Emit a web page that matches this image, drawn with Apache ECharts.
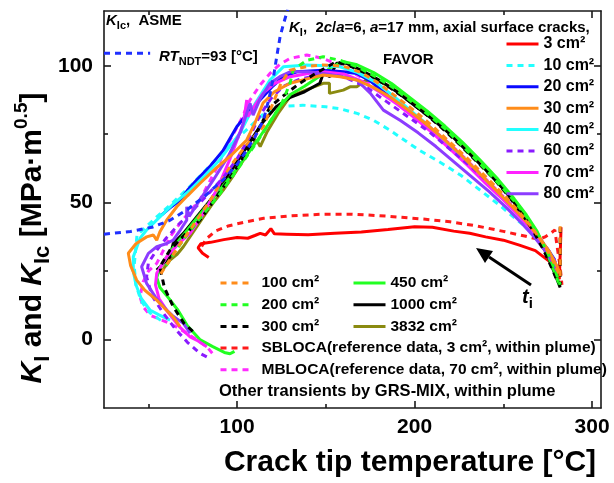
<!DOCTYPE html>
<html>
<head>
<meta charset="utf-8">
<script src="https://cdn.jsdelivr.net/npm/echarts@6/dist/echarts.min.js"></script>
<style>
  html, body { margin: 0; padding: 0; background: #fff; }
  #chart { width: 614px; height: 483px; }
</style>
</head>
<body>
<div id="chart"></div>
<script>
// Axis ticks
const xMajorTicks = [100, 200, 300];
const xMinorTicks = [50, 150, 250];
const yMajorTicks = [0, 50, 100];
const yMinorTicks = [25, 75];

// ASME K_Ic reference curve (RT_NDT = 93 °C) and its key sample
const asmeKIc = [[25,38.5],[40,39.5],[52,41],[62,43.5],[72,47.5],[82,52.5],[92,58.3],[100,64],[105.4,69.2],[110,74],[114.7,80],[118,88],[120.5,96],[122.3,103.3],[124.2,110.6],[126,115],[128.5,120.5]];
const asmeKey = [[25,104.6],[51,104.6]];

// K_I paths versus crack tip temperature for each break size (FAVOR)
const kI3 = [[84,30],[80.5,31.5],[78,33.5],[79.5,35],[85,35.5],[92.5,36.5],[100,37.3],[106,37],[110,38],[113,38.8],[116,38.2],[119,40.5],[121,38.6],[128,38.5],[140,38.3],[155,38.8],[170,39.3],[185,40.2],[200,41.2],[210,41],[222,39.6],[231,38.8],[240,37.5],[250,36.3],[259,34.5],[268,32.5],[275,29],[279,27],[281.5,22],[282,31],[282.5,41]];
const kI10 = [[57,7],[51,9.7],[46,14],[43,20],[42,27],[43,34],[43.6,38.2],[48,40.7],[55,45],[62,49],[72,55],[84,63],[95,70.5],[107,77.6],[115,82.5],[122.5,85],[137,85.6],[150,85],[158,84.3],[168,82.5],[176.5,80.2],[186,76.5],[195,72.5],[203,69],[215,64.5],[226,60],[238,54],[248,49],[258,43.5],[265,40],[271,35],[276,30],[280,25.4]];
const kI20 = [[57.5,45.5],[62,48],[67.8,50.9],[72,54.5],[77.2,58.3],[85,63.5],[92,69],[99.8,77.7],[107,83.5],[114.6,88.7],[120,92.5],[126,96],[133.6,97.8],[148.4,98.4],[160,97.8],[167.4,97.2],[175,94.5],[185,89],[195,84],[205,79],[215,73.5],[225,67.5],[235,61],[245,54.5],[255,48],[263,42.5],[270,37],[275,33],[279,29]];
const kI30 = [[67.8,4.7],[64,8.3],[59,11.5],[54.7,14.4],[48,18],[43.4,21.7],[40,27],[38.7,31.5],[43,35],[49,37.5],[52.8,38.2],[54.7,36.3],[56.5,39.4],[60.3,43.6],[66,48.5],[72,52.5],[79,57],[88,62.5],[97,67.5],[105.4,72.9],[110,79],[114.6,86.4],[121,90.5],[129.8,93.6],[140,95.3],[148.4,96.6],[158,96],[167.4,94.8],[177,92],[186,88.7],[196,84],[206,79],[216,73.5],[226,67.5],[236,61],[246,54.5],[255,48.5],[263,43],[270,37.5],[276,32],[280,27],[282,24]];
const kI40 = [[62.2,7.1],[56,9],[50.9,10.8],[46,15],[43,20],[41.5,25],[41.5,30.2],[45.3,37],[49,40],[56.5,44.8],[64,49.5],[73.5,54.6],[82,60],[90,65.5],[101.6,75.4],[110,86],[118.5,94.8],[126,99.6],[139.2,100.3],[150,100],[158,99.6],[168,97.5],[178,94],[188,89],[198,83.5],[208,78],[218,72],[228,66],[238,59.5],[248,53],[257,47],[265,41.5],[271,36.5],[276,31.5],[280,27]];
const kI60 = [[82.9,-6.3],[79,-5],[72,-1],[65,4],[58,10],[52,16],[49,22.9],[50,28],[54,32],[60,37],[67,42],[73.5,46.2],[82,52],[92,59],[100,66],[107,74],[113,82],[119,88],[126,92.5],[135,95],[148,97],[160,96],[172,92.5],[184,87],[196,81.5],[208,76],[220,69.5],[232,63],[244,56],[254,49.5],[263,43],[270,37.5],[276,32],[280,27.5]];
const kI70 = [[82.9,-2.6],[78,-0.5],[73.5,1],[67,5],[61,10],[56,15],[54,20],[54.7,24.2],[60.3,30.2],[67,35],[73.5,38.8],[80,45],[88.5,54.6],[96,66],[103.5,79],[105.4,87.5],[106,81.4],[110,85.5],[114.7,90],[121,93.5],[129.8,96],[140,97.2],[148.4,97.8],[160,97],[170,94.5],[180,90.5],[190,86],[200,81],[210,75.5],[220,69.5],[230,63.5],[240,57],[250,51],[259,45],[266,40],[272,35],[277,30.5],[280,27]];
const kI80 = [[73.5,2.3],[69.7,5.9],[64,8.5],[60.3,10.8],[54,15.5],[49,20.5],[46.2,26.6],[50,31.5],[54.7,33.9],[60,35],[64,36.3],[68,40],[71.6,43.6],[71.6,48.5],[73,45],[78,50],[86.6,58.3],[95,67],[102,76],[107.3,86.3],[109,82],[113,88],[118.5,93.6],[124,96],[129.8,97.8],[140,97.8],[148.5,97.2],[158,96.2],[167.4,94.8],[175,90],[182.4,83.8],[192,80],[202,75.5],[212,70.5],[222,65],[232,59.5],[242,54],[252,48],[261,42],[268,37],[274,32],[279,27],[281,24]];
const kI100 = [[57,24],[62,29],[68,35],[75,41.5],[85,51],[96,63.1],[105,71],[114.7,77.7],[120,86],[125,94],[129.8,98.4],[140,99.8],[148.5,100.3],[160,99.8],[170,97.5],[180,93.5],[190,88.5],[200,83.5],[210,78],[220,72],[230,66],[240,59.5],[250,53],[259,46.5],[266,41],[272,35.5],[277,30],[281,24.5],[282,22.8],[282,41.8]];
const kI200 = [[60,27],[66,33],[72,38.5],[80,45],[90,53],[100,62],[110,71],[118,79],[125,86],[129.8,93.6],[131.6,98.4],[139.2,102],[148.5,103.3],[158,102],[168,99.5],[178,96],[188,92],[198,87],[208,82],[218,76.5],[228,70],[238,63.5],[248,56.5],[257,50],[264,44],[270,38],[275,31.5],[279,25.5],[282,20]];
const kI300 = [[75,3],[70,6],[64,12],[59,19],[56.5,26.6],[62.2,32.7],[70,38],[79,43.6],[88.5,52.2],[98,61],[108,71.5],[118.5,85],[126,89],[135,93.5],[145,97.5],[156,101.5],[165,99.5],[175,96.5],[185,92.5],[195,88],[205,83],[215,77.5],[225,71.5],[235,65],[245,58.5],[254,51.5],[261,45.5],[267,39.5],[272,33.5],[276,28],[280,22],[282,20],[282,41]];
const kI450 = [[98.5,-4.3],[96,-5.2],[92.8,-4.7],[86,-2.5],[79,0],[72,5],[66.6,10.8],[61,15.5],[56.5,19],[54.7,22.7],[57,27],[64,33.6],[72,40],[80,46.5],[90,54.5],[100,62.5],[110,71.5],[118,79],[124,85],[130,89.5],[138,92.5],[146,96],[153,99.5],[160,101.5],[167,100.5],[177,97.5],[187,93.5],[197,88.5],[207,83.5],[217,78],[227,72],[237,65.5],[247,58.5],[256,51.5],[263,45.5],[269,39.5],[274,32.5],[278,26],[281.5,20]];
const kI1000 = [[54.7,25.4],[58,27.5],[62.2,30.2],[64,35.1],[69.7,38.8],[77.2,44.8],[85,51],[95,60],[105,70],[114,79],[122,85],[130,88.5],[138,90.5],[146.6,93.6],[148.5,97.2],[152.3,96],[156,100.9],[161.7,100.9],[170,98.3],[180,94.8],[190,90.5],[200,85.5],[210,80.5],[220,75],[230,68.5],[240,62],[250,55],[258,48.5],[265,42.5],[270,37],[275,30.5],[279,24],[282,19]];
const kI3832 = [[56.5,24.2],[62.2,29],[66,31],[69.7,33.9],[75,39],[81,44.8],[86,49.5],[92.2,54.6],[98,60],[104,66],[108,70],[111,72.9],[113,70.5],[117,76],[123,82.5],[129.8,88.7],[140,91.5],[148.5,93.6],[152,93.6],[152,89.9],[159.8,91.1],[163.6,92.3],[167.4,92.3],[172,94.5],[178,95],[186,92.5],[196,88],[206,83],[216,77.5],[226,71.5],[236,65],[246,58],[255,51.5],[262,45.8],[268,40],[273,33.5],[277,28],[280,23],[282,19.5]];

// Reference transients (within plume)
const sbloca = [[80,34],[83,37],[88,39.7],[95,41.5],[105,43],[115,44.3],[130,45.2],[148.4,45.8],[165,45.8],[186,45],[205,44],[220,43],[235,41.5],[250,39.5],[262,37.8],[270,36.6],[273.5,37.5],[277,39],[279,40],[280.5,33],[282,26.5],[283,20]];
const mbloca = [[86,-5],[82.9,-2.6],[76,0.5],[71.6,2.3],[66,4.5],[62.2,5.9],[56,7.5],[50.9,8.9],[47,12],[45.3,15.6],[47,21],[50,25],[54.7,27.8],[58,32],[62.2,37.5],[67.8,42.4],[73,46.5],[79,51],[88,62],[96,72.9],[102,80],[107.3,87.5],[113,93],[118.5,97.2],[124,100.5],[129.8,102.7],[139.2,103.9],[148.5,102.7],[158,100],[168,96.5],[178,92.5],[188,88],[198,83],[208,78],[218,72.5],[228,66.5],[238,60],[248,53.5],[257,47.5],[264,42],[270,37],[275,32],[279,27.5],[282,24]];

const FONT = '"Liberation Sans", Arial, Helvetica, sans-serif';
const DASH = [6, 5];
const AXIS_COLOR = '#1a1a1a';

function curve(name, data, color, dashed, z) {
  return {
    type: 'line', name: name, data: data, symbol: 'none', showSymbol: false, smooth: false,
    xAxisIndex: 0, yAxisIndex: 0, z: z || 2,
    lineStyle: { color: color, width: 3, type: dashed ? DASH : 'solid' },
    itemStyle: { color: color },
    emphasis: { disabled: true }, silent: true, animation: false
  };
}

const seriesList = [
  curve('SBLOCA(reference data, 3 cm², within plume)', sbloca, '#ff1a1a', true),
  curve('MBLOCA(reference data, 70 cm², within plume)', mbloca, '#ff2bff', true),
  curve('3 cm²', kI3, '#ff0000', false),
  curve('10 cm²', kI10, '#22ffff', true),
  curve('3832 cm²', kI3832, '#8a8a10', false),
  curve('1000 cm²', kI1000, '#000000', false),
  curve('450 cm²', kI450, '#22ff22', false),
  curve('300 cm²', kI300, '#000000', true, 3),
  curve('200 cm²', kI200, '#22ff22', true, 3),
  curve('100 cm²', kI100, '#ff8c1a', true, 3),
  curve('20 cm²', kI20, '#0a0aff', false),
  curve('40 cm²', kI40, '#22ffff', false),
  curve('70 cm²', kI70, '#ff22ff', false),
  curve('60 cm²', kI60, '#8a1aff', true),
  curve('80 cm²', kI80, '#8c3cff', false),
  curve('30 cm²', kI30, '#ff8c1a', false),
  curve('ASME', asmeKIc, '#1f2fff', true, 4),
  curve('ASME key', asmeKey, '#1f2fff', true, 4)
];

const dashOf = {};
const colorOf = {};
seriesList.forEach(s => { dashOf[s.name] = s.lineStyle.type; colorOf[s.name] = s.lineStyle.color; });

// Legend keys show only the line (no marker)
function legendItems(names) {
  return names.map(n => ({
    name: n,
    lineStyle: { width: 3, type: dashOf[n], color: colorOf[n] },
    itemStyle: { opacity: 0, borderWidth: 0 }
  }));
}

function legendBlock(names, left, top, gap, size, textPad) {
  return {
    data: legendItems(names), orient: 'vertical', left: left, top: top,
    padding: 0, itemGap: gap, itemWidth: 32, itemHeight: 14,
    selectedMode: false,
    textStyle: { fontFamily: FONT, fontSize: size, fontWeight: 'bold', color: '#000', lineHeight: 16, padding: [0, 0, 0, textPad] }
  };
}

function xAxisCfg(position, ticks, len, withLine, withLabels) {
  return {
    type: 'value', position: position, min: 25, max: 305,
    axisLine: { show: withLine, onZero: false, lineStyle: { color: AXIS_COLOR, width: 1.6 } },
    axisTick: { show: true, inside: true, length: len, customValues: ticks, lineStyle: { color: AXIS_COLOR, width: 1.6 } },
    axisLabel: withLabels ? { show: true, customValues: ticks, margin: 9, fontFamily: FONT, fontSize: 21, fontWeight: 'bold', color: '#000' } : { show: false },
    splitLine: { show: false }
  };
}
function yAxisCfg(position, ticks, len, withLine, withLabels) {
  return {
    type: 'value', position: position, min: -25, max: 120,
    axisLine: { show: withLine, onZero: false, lineStyle: { color: AXIS_COLOR, width: 1.6 } },
    axisTick: { show: true, inside: true, length: len, customValues: ticks, lineStyle: { color: AXIS_COLOR, width: 1.6 } },
    axisLabel: withLabels ? { show: true, customValues: ticks, margin: 11, fontFamily: FONT, fontSize: 21, fontWeight: 'bold', color: '#000' } : { show: false },
    splitLine: { show: false }
  };
}

function rich(size) {
  return {
    n: { fontFamily: FONT, fontSize: size, fontWeight: 'bold', lineHeight: size * 1.4, verticalAlign: 'middle', fill: '#000', color: '#000' },
    i: { fontFamily: FONT, fontSize: size, fontWeight: 'bold', fontStyle: 'italic', lineHeight: size * 1.4, verticalAlign: 'middle', fill: '#000', color: '#000' },
    sb: { fontFamily: FONT, fontSize: Math.round(size * 0.74), fontWeight: 'bold', lineHeight: size * 1.4, verticalAlign: 'bottom', fill: '#000', color: '#000' },
    sp: { fontFamily: FONT, fontSize: Math.round(size * 0.64), fontWeight: 'bold', lineHeight: size * 1.4, verticalAlign: 'top', fill: '#000', color: '#000' }
  };
}

function label(x, y, text, size, align, rotation) {
  return {
    type: 'text', x: x, y: y, rotation: rotation || 0, silent: true, z: 20,
    style: {
      text: text, rich: rich(size), fill: '#000',
      font: 'bold ' + size + 'px ' + FONT,
      textAlign: align || 'left', textVerticalAlign: 'middle'
    }
  };
}

const chart = echarts.init(document.getElementById('chart'), null, { renderer: 'canvas' });
chart.setOption({
  animation: false,
  backgroundColor: '#ffffff',
  grid: { left: 104, right: 13, top: 11, bottom: 75, containLabel: false, outerBoundsMode: 'none' },
  xAxis: [
    xAxisCfg('bottom', xMajorTicks, 7, true, true),
    xAxisCfg('bottom', xMinorTicks, 4, false, false),
    xAxisCfg('top', xMajorTicks, 7, true, false),
    xAxisCfg('top', xMinorTicks, 4, false, false)
  ],
  yAxis: [
    yAxisCfg('left', yMajorTicks, 7, true, true),
    yAxisCfg('left', yMinorTicks, 4, false, false),
    yAxisCfg('right', yMajorTicks, 7, true, false),
    yAxisCfg('right', yMinorTicks, 4, false, false)
  ],
  legend: [
    legendBlock(['3 cm²', '10 cm²', '20 cm²', '30 cm²', '40 cm²', '60 cm²', '70 cm²', '80 cm²'], 505, 36, 5.4, 16, 0),
    legendBlock(['100 cm²', '200 cm²', '300 cm²', 'SBLOCA(reference data, 3 cm², within plume)', 'MBLOCA(reference data, 70 cm², within plume)'], 219, 275, 5.7, 15.5, 4),
    legendBlock(['450 cm²', '1000 cm²', '3832 cm²'], 352, 275, 5.7, 15.5, 0)
  ],
  series: seriesList,
  graphic: [
    label(106, 21, '{i|K}{sb|Ic}{n|,  ASME}', 15),
    label(159, 57, '{i|RT}{sb|NDT}{n|=93 [°C]}', 15),
    label(289, 28, '{i|K}{sb|I}{n|,  2}{i|c}{n|/}{i|a}{n|=6, }{i|a}{n|=17 mm, axial surface cracks,}', 15),
    label(383, 60, '{n|FAVOR}', 15),
    label(219, 391, '{n|Other transients by GRS-MIX, within plume}', 16.5),
    label(522, 297, '{i|t}{sb|i}', 20),
    label(410, 463, '{n|Crack tip temperature [°C]}', 30, 'center'),
    label(33, 238, '{i|K}{sb|I}{n| and }{i|K}{sb|Ic}{n| [MPa·m}{sp|0.5}{n|]}', 30, 'center', Math.PI / 2),
    {
      type: 'polyline', silent: true, z: 20,
      shape: { points: [[531, 285], [489, 257]] },
      style: { stroke: '#000', lineWidth: 3, fill: null }
    },
    {
      type: 'polygon', silent: true, z: 20,
      shape: { points: [[476, 248], [493, 251], [485, 263]] },
      style: { fill: '#000' }
    }
  ]
});
</script>
</body>
</html>
